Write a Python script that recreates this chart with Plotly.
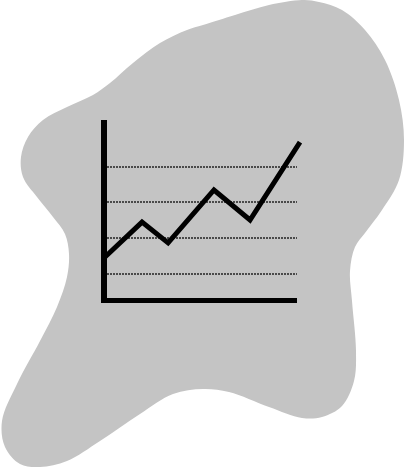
import plotly.graph_objects as go

# backdrop blob outline (page pixels)
blob_x = [302, 319, 342, 365, 385, 399, 404, 399, 382, 365, 355, 350, 352, 356, 354,
          342, 322, 302, 269, 229, 203, 173, 140, 100, 67, 40, 20, 5, 2, 17, 40, 57,
          67, 69, 65, 53, 37, 23, 21, 28, 43, 67, 93, 110, 133, 160, 187, 203, 235, 269, 302]
blob_y = [0, 2, 10, 30, 60, 100, 140, 180, 210, 233, 247, 271, 301, 351, 381,
          406, 417, 418, 407, 392, 389, 394, 414, 441, 461, 467, 464, 447, 421, 384, 341, 307,
          277, 254, 234, 217, 197, 177, 157, 137, 120, 107, 95, 83, 63, 43, 30, 25, 15, 5, 0]

# the little line chart
line_x = [0, 1.94, 3.27, 5.61, 7.45, 10]
line_y = [1.45, 2.45, 1.87, 3.35, 2.51, 4.69]
grid_vals = [1, 2, 3, 4]

W, H = 405, 468
# chart frame: 19.6 px per x unit from px 104, 35.77 px per y unit from px 309.8
px_x, x0_px = 19.6, 104
px_y, y0_px = 35.77, 309.8


def xdom(a, b):
    return [a / W, b / W], [(a - x0_px) / px_x, (b - x0_px) / px_x]


def ydom(top, bottom):
    return [1 - bottom / H, 1 - top / H], [(y0_px - bottom) / px_y, (y0_px - top) / px_y]


dx2, rx2 = xdom(107, 297)
dy2, ry2 = ydom(120, 298)
dx3, rx3 = xdom(107, 312)
dy3, ry3 = ydom(110, 298)

fig = go.Figure()
fig.add_trace(go.Scatter(x=blob_x, y=blob_y, mode='lines', fill='toself',
                         fillcolor='#c4c4c4', line=dict(width=0, shape='spline', smoothing=1),
                         hoverinfo='skip', showlegend=False))
# empty trace just to make the frame subplot exist
fig.add_trace(go.Scatter(x=[], y=[], xaxis='x2', yaxis='y2', showlegend=False))
fig.add_trace(go.Scatter(x=line_x, y=line_y, xaxis='x3', yaxis='y3', mode='lines',
                         line=dict(color='black', width=5), hoverinfo='skip', showlegend=False))

hidden = dict(visible=False, showgrid=False, zeroline=False, fixedrange=True)
fig.update_layout(
    width=W, height=H, autosize=False,
    margin=dict(l=0, r=0, t=0, b=0),
    paper_bgcolor='white', plot_bgcolor='rgba(0,0,0,0)',
    xaxis=dict(range=[0, W], domain=[0, 1], **hidden),
    yaxis=dict(range=[H, 0], domain=[0, 1], **hidden),
    xaxis2=dict(domain=dx2, range=rx2, anchor='y2', showline=True, linecolor='black',
                linewidth=5, showgrid=False, zeroline=False, showticklabels=False,
                ticks='', fixedrange=True),
    yaxis2=dict(domain=dy2, range=ry2, anchor='x2', showline=True, linecolor='black',
                linewidth=6, showgrid=True, gridcolor='#4a4a4a', gridwidth=2,
                griddash='2px,1px', tickvals=grid_vals, zeroline=False,
                showticklabels=False, ticks='', fixedrange=True),
    xaxis3=dict(domain=dx3, range=rx3, anchor='y3', **hidden),
    yaxis3=dict(domain=dy3, range=ry3, anchor='x3', **hidden),
)

fig.write_html("out.html", config={'displayModeBar': False},
               post_script="document.body.style.margin='0';")
